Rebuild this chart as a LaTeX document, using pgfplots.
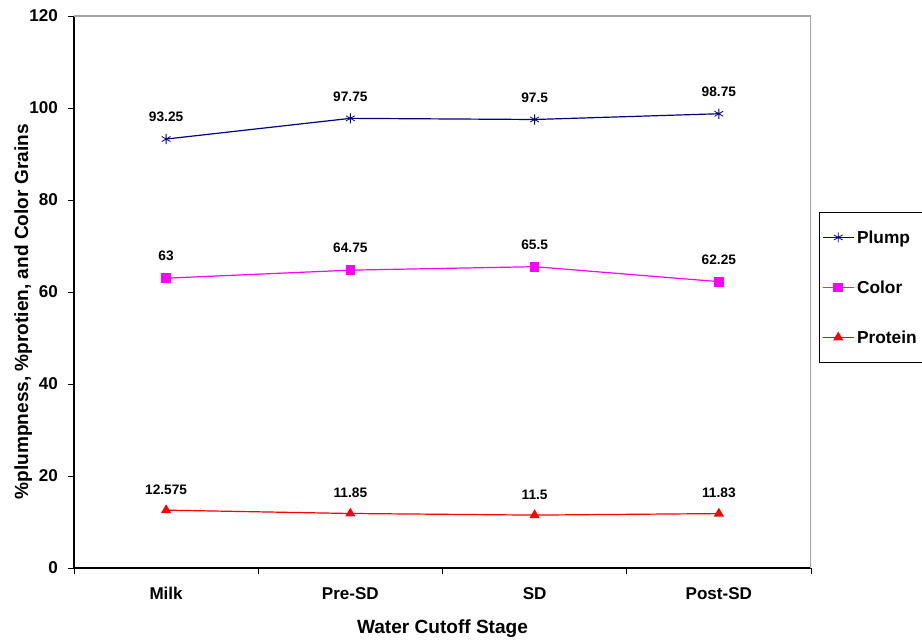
\documentclass[border=0pt]{standalone}
\usepackage{fontspec}
\setmainfont{Liberation Sans}
\usepackage{pgfplots}
\pgfplotsset{compat=1.18}
\definecolor{plumpc}{RGB}{0,0,128}
\definecolor{colorc}{RGB}{255,0,255}
\definecolor{protc}{RGB}{255,0,0}
\begin{document}
\begin{tikzpicture}
\useasboundingbox (-55.5pt,-54pt) rectangle (636pt,426pt);
\begin{axis}[
  at={(0,0)}, anchor=south west, scale only axis,
  width=552.75pt, height=414pt,
  xmin=-0.5, xmax=3.5, ymin=0, ymax=120,
  axis lines*=left,
  axis line style={black, line width=0.8pt},
  ytick={0,20,...,120},
  xtick={-0.5,0.5,1.5,2.5,3.5}, xticklabels={},
  extra x ticks={0,1,2,3},
  extra x tick labels={Milk,Pre-SD,SD,Post-SD},
  extra x tick style={major tick length=0pt},
  tick align=outside, major tick length=4.5pt,
  tick style={black, line width=0.6pt},
  tick label style={font=\fontsize{12.8}{15}\selectfont\bfseries},
  /pgf/number format/assume math mode=true,
  xticklabel style={yshift=-11pt},
  yticklabel style={xshift=-4pt},
  xlabel={Water Cutoff Stage},
  ylabel={\%plumpness, \%protien, and Color Grains},
  label style={font=\fontsize{14.3}{17}\selectfont\bfseries},
  xlabel style={at={(axis description cs:0.5,-0.11)}, anchor=center},
  ylabel style={at={(axis description cs:-0.069,0.464)}, anchor=center, rotate=0},
  legend style={at={(1.0109,0.6449)}, anchor=north west, draw=black, line width=0.6pt,
    font=\fontsize{13}{15}\selectfont\bfseries, inner xsep=2pt, inner ysep=11pt,
    row sep=22pt, cells={anchor=west, text height=10pt, text depth=3pt}},
  legend image code/.code={\draw[mark repeat=2, mark phase=2, #1] plot coordinates {(0cm,0cm) (0.41cm,0cm) (0.82cm,0cm)};},
  point meta=explicit symbolic,
  nodes near coords,
  every node near coord/.append style={anchor=south, inner sep=0pt, yshift=12.5pt,
    font=\fontsize{10.3}{12}\selectfont\bfseries, text=black},
]
\addplot[color=plumpc, line width=0.9pt, mark=asterisk, mark size=3.8pt,
  mark options={line width=0.6pt}]
  coordinates {(0,93.25) [93.25] (1,97.75) [97.75] (2,97.5) [97.5] (3,98.75) [98.75]};
\addlegendentry{Plump}
\addplot[color=colorc, line width=0.9pt, mark=square*, mark size=3.2pt]
  coordinates {(0,63) [63] (1,64.75) [64.75] (2,65.5) [65.5] (3,62.25) [62.25]};
\addlegendentry{Color}
\addplot[color=protc, line width=0.9pt, mark=triangle*, mark size=3.5pt,
  every node near coord/.append style={yshift=-1pt}]
  coordinates {(0,12.575) [12.575] (1,11.85) [11.85] (2,11.5) [11.5] (3,11.83) [11.83]};
\addlegendentry{Protein}
\draw[gray!70, line width=0.8pt] (rel axis cs:0,1) -- (rel axis cs:1,1) -- (rel axis cs:1,0);
\end{axis}
\end{tikzpicture}
\end{document}
